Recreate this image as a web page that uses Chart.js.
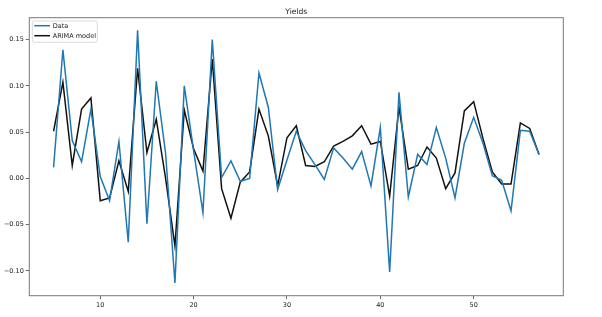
<!DOCTYPE html>
<html>
<head>
<meta charset="utf-8">
<script src="https://cdn.jsdelivr.net/npm/chart.js@4.4.0/dist/chart.umd.min.js"></script>
<style>
  body { margin: 0; background: #fff; }
  canvas { display: block; }
</style>
</head>
<body>
<canvas id="yieldChart" width="602" height="317"></canvas>
<script>
// x positions (period index)
const periods = [5, 6, 7, 8, 9, 10, 11, 12, 13, 14, 15, 16, 17, 18, 19, 20, 21, 22, 23, 24,
  25, 26, 27, 28, 29, 30, 31, 32, 33, 34, 35, 36, 37, 38, 39, 40, 41, 42, 43, 44,
  45, 46, 47, 48, 49, 50, 51, 52, 53, 54, 55, 56, 57];

const dataValues = [0.012, 0.139, 0.041, 0.018, 0.075, 0.002, -0.024, 0.040, -0.069, 0.160,
  -0.049, 0.105, 0.027, -0.113, 0.100, 0.030, -0.037, 0.150, 0.001, 0.019,
  -0.003, 0.000, 0.114, 0.077, -0.012, 0.020, 0.051, 0.030, 0.015, -0.001,
  0.033, 0.022, 0.010, 0.029, -0.008, 0.055, -0.101, 0.093, -0.020, 0.026,
  0.015, 0.055, 0.022, -0.021, 0.038, 0.066, 0.038, 0.003, -0.002, -0.035,
  0.052, 0.051, 0.026];

const arimaValues = [0.051, 0.104, 0.014, 0.075, 0.087, -0.024, -0.021, 0.019, -0.014, 0.119,
  0.028, 0.064, 0.000, -0.073, 0.074, 0.032, 0.008, 0.129, -0.011, -0.043,
  -0.004, 0.007, 0.075, 0.046, -0.008, 0.044, 0.057, 0.014, 0.013, 0.018,
  0.035, 0.040, 0.046, 0.057, 0.037, 0.040, -0.019, 0.077, 0.010, 0.014,
  0.034, 0.022, -0.011, 0.006, 0.073, 0.083, 0.043, 0.007, -0.006, -0.006,
  0.060, 0.054, 0.026];

const xTicks = [10, 20, 30, 40, 50];
const yTicks = [-0.10, -0.05, 0.00, 0.05, 0.10, 0.15];

const FONT = 'DejaVu Sans';

const toPoints = (vals) => vals.map((v, i) => ({ x: periods[i], y: v }));

// frame, title and matplotlib-like legend
const decor = {
  id: 'decor',
  afterDraw(chart) {
    const { ctx, chartArea: a } = chart;
    ctx.save();
    ctx.strokeStyle = '#777';
    ctx.lineWidth = 1;
    ctx.strokeRect(a.left, a.top, a.right - a.left, a.bottom - a.top);

    ctx.fillStyle = '#222';
    ctx.font = '7.6px ' + FONT;
    ctx.textAlign = 'center';
    ctx.textBaseline = 'alphabetic';
    ctx.fillText('Yields', (a.left + a.right) / 2, 14);

    // legend
    const lx = a.left + 3, ly = a.top + 3.3, lw = 65, lh = 21.3;
    ctx.fillStyle = 'rgba(255,255,255,0.8)';
    ctx.strokeStyle = '#d0d0d0';
    ctx.lineWidth = 0.8;
    ctx.beginPath();
    ctx.roundRect(lx, ly, lw, lh, 2);
    ctx.fill();
    ctx.stroke();
    ctx.font = '6.5px ' + FONT;
    ctx.textAlign = 'left';
    ctx.textBaseline = 'middle';
    chart.data.datasets.forEach((ds, i) => {
      const y = ly + 4.7 + i * 10;
      ctx.strokeStyle = ds.borderColor;
      ctx.lineWidth = 1.5;
      ctx.beginPath();
      ctx.moveTo(lx + 2, y);
      ctx.lineTo(lx + 17.7, y);
      ctx.stroke();
      ctx.fillStyle = '#222';
      ctx.fillText(ds.label, lx + 20.4, y + 0.3);
    });
    ctx.restore();
  }
};

new Chart(document.getElementById('yieldChart'), {
  type: 'line',
  data: {
    datasets: [
      { label: 'Data', data: toPoints(dataValues), borderColor: '#1f77b4', borderWidth: 1.5, pointRadius: 0, tension: 0 },
      { label: 'ARIMA model', data: toPoints(arimaValues), borderColor: '#111111', borderWidth: 1.5, pointRadius: 0, tension: 0 }
    ]
  },
  options: {
    responsive: false,
    animation: false,
    layout: { padding: { top: 17.7, right: 38.7, left: 0, bottom: 0 } },
    plugins: { legend: { display: false }, title: { display: false }, tooltip: { enabled: false } },
    scales: {
      x: {
        type: 'linear',
        min: 2.4,
        max: 59.6,
        afterBuildTicks: (s) => { s.ticks = xTicks.map(v => ({ value: v })); },
        afterFit: (s) => { s.height = 21.3; },
        grid: { drawOnChartArea: false, tickLength: 3.5, color: '#444', tickWidth: 0.8 },
        border: { display: false },
        ticks: { font: { family: FONT, size: 6.5 }, color: '#222', padding: 2, maxRotation: 0 }
      },
      y: {
        min: -0.1267,
        max: 0.1737,
        afterBuildTicks: (s) => { s.ticks = yTicks.map(v => ({ value: v })); },
        afterFit: (s) => { s.width = 29.3; },
        grid: { drawOnChartArea: false, tickLength: 3.5, color: '#444', tickWidth: 0.8 },
        border: { display: false },
        ticks: {
          font: { family: FONT, size: 6.5 }, color: '#222', padding: 2,
          callback: (v) => v.toFixed(2).replace('-', '\u2212')
        }
      }
    }
  },
  plugins: [decor]
});
</script>
</body>
</html>
